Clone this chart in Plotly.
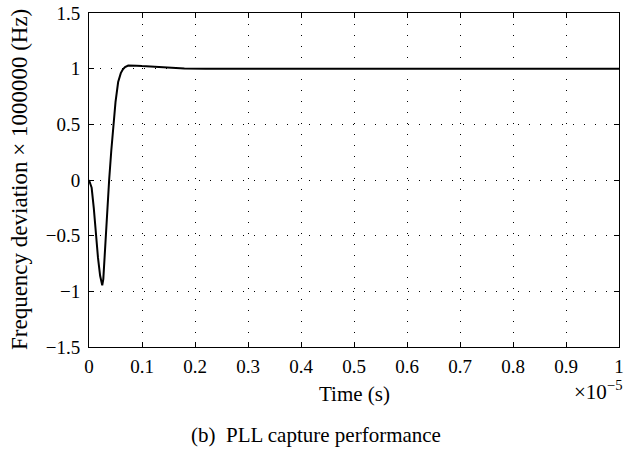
import plotly.graph_objects as go

# time in units of 1e-5 s, frequency deviation in units of 1e6 Hz
time_vals = [0.0, 0.005, 0.009, 0.013, 0.017, 0.021, 0.024, 0.025, 0.027, 0.029, 0.031,
             0.034, 0.038, 0.042, 0.046, 0.05, 0.055, 0.06, 0.064, 0.068, 0.074, 0.08,
             0.09, 0.1, 0.115, 0.13, 0.15, 0.18, 0.22, 0.3, 0.4, 0.5, 0.6, 0.7, 0.8,
             0.9, 1.0]
freq_dev = [0.0, -0.07, -0.25, -0.5, -0.7, -0.86, -0.935, -0.945, -0.89, -0.72, -0.5,
            -0.25, 0.0, 0.26, 0.5, 0.7, 0.88, 0.96, 0.995, 1.015, 1.028, 1.03,
            1.027, 1.023, 1.018, 1.012, 1.006, 1.002, 1.0, 1.0, 1.0, 1.0, 1.0, 1.0, 1.0,
            1.0, 1.0]

x_ticks = [0, 0.1, 0.2, 0.3, 0.4, 0.5, 0.6, 0.7, 0.8, 0.9, 1]
x_tick_text = ["0", "0.1", "0.2", "0.3", "0.4", "0.5", "0.6", "0.7", "0.8", "0.9", "1"]
y_ticks = [-1.5, -1, -0.5, 0, 0.5, 1, 1.5]
y_tick_text = ["\u22121.5", "\u22121", "\u22120.5", "0", "0.5", "1", "1.5"]

font_family = "Liberation Serif, Times New Roman, serif"

W, H = 632, 453
L, R, T, B = 89, 13, 13, 106
PW, PH = W - L - R, H - T - B


def px(xp):
    return (xp - L) / PW


def py(yp):
    return (H - B - yp) / PH


fig = go.Figure()
fig.add_trace(go.Scatter(x=time_vals, y=freq_dev, mode="lines",
                         line=dict(color="black", width=2), showlegend=False))

axis_common = dict(
    showline=True, linecolor="black", linewidth=1, mirror="ticks",
    ticks="inside", ticklen=5, tickcolor="black", tickwidth=1,
    showgrid=True, gridcolor="black", gridwidth=1, griddash="1px,10px",
    zeroline=False, automargin=False,
    tickfont=dict(family=font_family, size=19, color="black"),
)

fig.update_layout(
    width=W, height=H,
    paper_bgcolor="white", plot_bgcolor="white",
    margin=dict(l=L, r=R, t=T, b=B),
    font=dict(family=font_family, color="black"),
    xaxis=dict(range=[0, 1], tickvals=x_ticks, ticktext=x_tick_text,
               ticklabelstandoff=2, **axis_common),
    yaxis=dict(range=[-1.5, 1.5], tickvals=y_ticks, ticktext=y_tick_text,
               ticklabelstandoff=4, **axis_common),
    annotations=[
        dict(text="Frequency deviation \u00d7 1000000 (Hz)", textangle=-90,
             x=px(19), y=py(180), xref="paper", yref="paper",
             showarrow=False, xanchor="center", yanchor="middle",
             font=dict(family=font_family, size=23, color="black")),
        dict(text="Time (s)", x=px(354), y=py(394), xref="paper", yref="paper",
             showarrow=False, xanchor="center", yanchor="middle",
             font=dict(family=font_family, size=21, color="black")),
        dict(text="\u00d710<sup>\u22125</sup>", x=px(624), y=py(390), xref="paper", yref="paper",
             showarrow=False, xanchor="right", yanchor="middle",
             font=dict(family=font_family, size=21, color="black")),
        dict(text="(b)  PLL capture performance", x=px(316), y=py(435),
             xref="paper", yref="paper", showarrow=False,
             xanchor="center", yanchor="middle",
             font=dict(family=font_family, size=21, color="black")),
    ],
)

fig.write_html("out.html", config={"displayModeBar": False},
               post_script="document.body.style.margin='0';document.body.style.overflow='hidden';")
